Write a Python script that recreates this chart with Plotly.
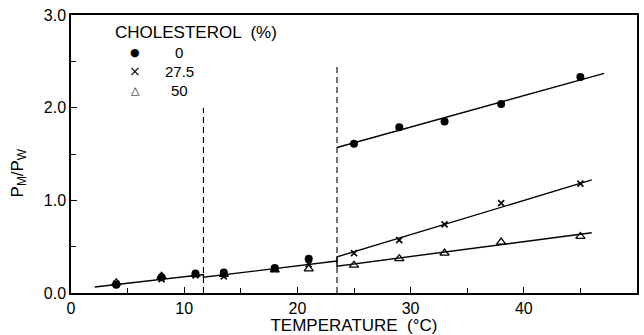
import plotly.graph_objects as go

temps = [4, 8, 11, 13.5, 18, 21, 25, 29, 33, 38, 45]
chol_0 = [0.09, 0.17, 0.21, 0.22, 0.27, 0.37, 1.61, 1.79, 1.85, 2.04, 2.33]
chol_27 = [0.10, 0.15, 0.19, 0.18, 0.26, 0.31, 0.43, 0.57, 0.74, 0.97, 1.18]
chol_50 = [0.11, 0.18, 0.20, 0.20, 0.25, 0.26, 0.30, 0.37, 0.43, 0.55, 0.61]

series_names = ["0", "27.5", "50"]
legend_glyphs = ["●", "×", "△"]

# fitted segments (x, y)
fit_low_x = [2.1, 11.7, 11.7, 23.5]
fit_low_y = [0.065, 0.20, 0.17, 0.345]
fit_0_x = [23.5, 23.5, 47.1]
fit_0_y = [1.57, 1.57, 2.37]
fit_27_x = [23.5, 23.5, 46.0]
fit_27_y = [0.345, 0.39, 1.22]
fit_50_x = [23.5, 23.5, 46.0]
fit_50_y = [0.345, 0.29, 0.65]

trans_x = [11.7, 23.5]
trans_top = [2.0, 2.47]

FONT = "Liberation Sans, Arial, sans-serif"
fig = go.Figure()

for tx, tt in zip(trans_x, trans_top):
    fig.add_trace(go.Scatter(x=[tx, tx], y=[0, tt], mode="lines",
                             line=dict(color="black", width=1.1, dash="6px,4px"),
                             showlegend=False, hoverinfo="skip"))

for fx, fy in [(fit_low_x, fit_low_y), (fit_0_x, fit_0_y), (fit_27_x, fit_27_y), (fit_50_x, fit_50_y)]:
    fig.add_trace(go.Scatter(x=fx, y=fy, mode="lines", line=dict(color="black", width=1.4),
                             showlegend=False, hoverinfo="skip"))

fig.add_trace(go.Scatter(x=temps, y=chol_0, mode="markers", name=series_names[0],
                         marker=dict(symbol="circle", size=8, color="black"), showlegend=False))
fig.add_trace(go.Scatter(x=temps, y=chol_27, mode="markers", name=series_names[1],
                         marker=dict(symbol="x-thin", size=6, color="black",
                                     line=dict(width=1.6, color="black")), showlegend=False))
fig.add_trace(go.Scatter(x=temps, y=chol_50, mode="markers", name=series_names[2],
                         marker=dict(symbol="triangle-up-open", size=8, color="black",
                                     line=dict(width=1.3, color="black")), showlegend=False))

axis_common = dict(showline=True, linecolor="black", linewidth=1.5, mirror=True,
                   ticks="inside", ticklen=6, tickwidth=1.2, tickcolor="black",
                   showgrid=False, zeroline=False, automargin=False,
                   tickfont=dict(family=FONT, size=16, color="black"))

fig.update_xaxes(range=[0, 50], dtick=10, **axis_common,
                 minor=dict(dtick=5, ticks="inside", ticklen=5, tickwidth=1.2, tickcolor="black"),
                 title=dict(text="TEMPERATURE  (°C)", font=dict(family=FONT, size=17, color="black"),
                            standoff=4))
fig.update_yaxes(range=[0, 3], dtick=1, tickformat=".1f", **axis_common,
                 minor=dict(dtick=0.5, ticks="inside", ticklen=5, tickwidth=1.2, tickcolor="black"))

annotations = [
    dict(text="P<sub>M</sub>/P<sub>W</sub>", textangle=-90, xref="paper", yref="paper",
         x=0, y=0.43, xanchor="center", yanchor="middle", xshift=-52, showarrow=False,
         font=dict(family=FONT, size=17, color="black")),
    dict(text="CHOLESTEROL  (%)", xref="paper", yref="paper", x=0, y=1, xshift=42, yshift=-17,
         xanchor="left", yanchor="middle", showarrow=False,
         font=dict(family=FONT, size=17, color="black")),
]
row_y = [-37, -56, -75]
glyph_sizes = [11, 14, 11]
for name, glyph, gs, ry in zip(series_names, legend_glyphs, glyph_sizes, row_y):
    annotations.append(dict(text=glyph, xref="paper", yref="paper", x=0, y=1, xshift=64, yshift=ry,
                            xanchor="center", yanchor="middle", showarrow=False,
                            font=dict(family="DejaVu Sans", size=gs, color="black")))
    annotations.append(dict(text=name, xref="paper", yref="paper", x=0, y=1, xshift=108, yshift=ry,
                            xanchor="center", yanchor="middle", showarrow=False,
                            font=dict(family=FONT, size=15, color="black")))

fig.update_layout(
    width=644, height=335,
    margin=dict(l=71, r=7, t=15, b=42),
    paper_bgcolor="white", plot_bgcolor="white",
    font=dict(family=FONT, color="black"),
    showlegend=False,
    annotations=annotations,
)

fig.write_html("out.html")
